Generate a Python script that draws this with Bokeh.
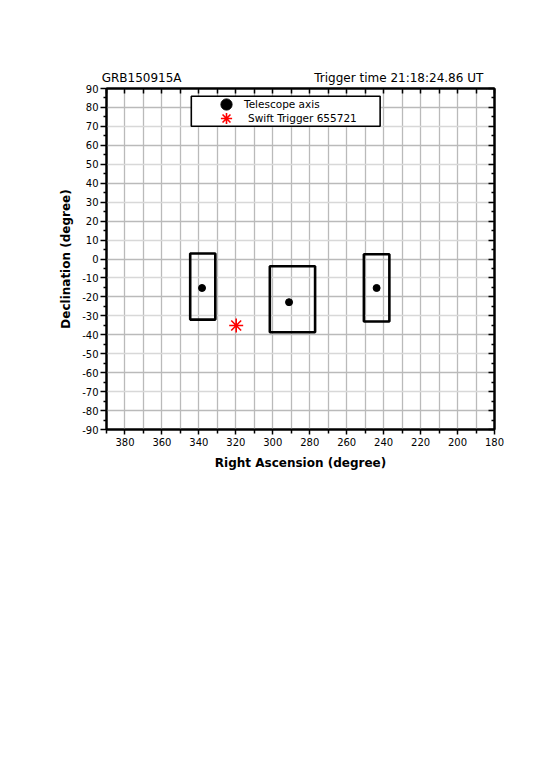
from bokeh.plotting import figure
from bokeh.models import (Range1d, LinearAxis, FixedTicker, Legend, LegendItem,
                          BoxAnnotation, CustomJSTickFormatter, ColumnDataSource)
from bokeh.embed import file_html
from bokeh.resources import INLINE

# ---- data ----
tel_ra = [338.3, 291.2, 243.8]
tel_dec = [-15.3, -22.8, -15.3]
swift_ra = [319.8]
swift_dec = [-35.1]
fov_left = [344.7, 301.6, 250.7]
fov_right = [331.1, 277.1, 236.9]
fov_top = [2.9, -3.8, 2.5]
fov_bottom = [-32.0, -38.7, -33.0]

x_ticks = [380, 360, 340, 320, 300, 280, 260, 240, 220, 200, 180]
x_minor = [390, 370, 350, 330, 310, 290, 270, 250, 230, 210, 190]
y_ticks = list(range(-90, 91, 10))
y_minor = list(range(-85, 90, 10))

title_left = "GRB150915A"
title_right = "Trigger time 21:18:24.86 UT"
x_label = "Right Ascension (degree)"
y_label = "Declination (degree)"
leg_tel = "Telescope axis"
leg_swift = "Swift Trigger 655721"

FONT = "DejaVu Sans"

p = figure(frame_width=388, frame_height=341,
           min_border_left=106, min_border_top=88, min_border_right=36, min_border_bottom=60,
           x_range=Range1d(390, 180), y_range=Range1d(-90, 90),
           output_backend="svg", toolbar_location=None,
           background_fill_color="white", border_fill_color="white")
p.outline_line_color = "black"
p.outline_line_width = 2

# grids
p.xgrid.ticker = FixedTicker(ticks=list(range(180, 391, 10)))
p.xgrid.grid_line_color = "#bababa"
p.xgrid.grid_line_width = 1.3
p.ygrid.ticker = FixedTicker(ticks=list(range(-80, 81, 20)), minor_ticks=list(range(-70, 81, 20)))
p.ygrid.grid_line_color = "#bababa"
p.ygrid.grid_line_width = 1.3
p.ygrid.minor_grid_line_color = "#d8d8d8"
p.ygrid.minor_grid_line_width = 1.3

plain = CustomJSTickFormatter(code="return tick.toString()")

# bottom axis
xa = p.xaxis[0]
xa.ticker = FixedTicker(ticks=x_ticks, minor_ticks=x_minor)
xa.axis_label = x_label
xa.axis_label_text_font = FONT
xa.axis_label_text_font_style = "bold"
xa.axis_label_text_font_size = "12px"
xa.axis_label_text_color = "black"
xa.axis_label_standoff = 7
xa.major_label_text_font = FONT
xa.major_label_text_font_size = "10px"
xa.major_label_text_color = "black"
xa.major_label_standoff = 3
xa.major_tick_out = 5
xa.major_tick_in = 0
xa.minor_tick_out = 4
xa.minor_tick_in = 0
xa.axis_line_width = 2
xa.major_tick_line_width = 1.5
xa.minor_tick_line_width = 1.5

# left axis
ya = p.yaxis[0]
ya.ticker = FixedTicker(ticks=y_ticks, minor_ticks=y_minor)
ya.formatter = plain
ya.axis_label = y_label
ya.axis_label_text_font = FONT
ya.axis_label_text_font_style = "bold"
ya.axis_label_text_font_size = "12px"
ya.axis_label_text_color = "black"
ya.axis_label_standoff = 6
ya.major_label_text_font = FONT
ya.major_label_text_font_size = "10px"
ya.major_label_text_color = "black"
ya.major_label_standoff = 2
ya.major_tick_out = 6
ya.major_tick_in = 0
ya.minor_tick_out = 3
ya.minor_tick_in = 0
ya.axis_line_width = 2
ya.major_tick_line_width = 1.5
ya.minor_tick_line_width = 1.5

# top axis: inward ticks every 10 deg; carries the two header texts as its labels
title_pos = [371.0, 231.8]   # header text centres along the top edge (layout only)
top_fmt = CustomJSTickFormatter(args=dict(left=title_left, right=title_right),
                                code="return tick > 300 ? left : right")
top = LinearAxis(ticker=FixedTicker(ticks=title_pos, minor_ticks=list(range(180, 391, 10))),
                 formatter=top_fmt,
                 major_tick_in=0, major_tick_out=0, minor_tick_in=5, minor_tick_out=0,
                 axis_line_width=2, minor_tick_line_width=1.5,
                 major_label_standoff=4, major_label_text_font=FONT,
                 major_label_text_font_size="12px", major_label_text_color="black")
p.add_layout(top, "above")

blank = CustomJSTickFormatter(code="return ''")
right = LinearAxis(ticker=FixedTicker(ticks=y_ticks, minor_ticks=y_minor), formatter=blank,
                   major_tick_in=6, major_tick_out=0, minor_tick_in=3, minor_tick_out=0,
                   axis_line_width=2, major_tick_line_width=1.5, minor_tick_line_width=1.5,
                   major_label_standoff=0)
p.add_layout(right, "right")

# field-of-view rectangles
p.quad(left=fov_left, right=fov_right, top=fov_top, bottom=fov_bottom,
       fill_color=None, line_color="black", line_width=2.6)

# telescope axes and swift trigger
p.scatter(tel_ra, tel_dec, marker="circle", size=7, fill_color="black", line_color="black")
p.scatter(swift_ra, swift_dec, marker="asterisk", size=14, line_color="red", line_width=1.6)

# legend (box + items)
box = BoxAnnotation(left=344.1, right=241.9, top=85.9, bottom=70.1,
                    fill_color="white", fill_alpha=1.0,
                    line_color="black", line_alpha=1.0, line_width=1.6)
p.add_layout(box)

nan = float("nan")
proxy_src = ColumnDataSource(data=dict(x=[nan], y=[nan]))
r_tel = p.scatter("x", "y", source=proxy_src, marker="circle", size=11,
                  fill_color="black", line_color="black")
r_sw = p.scatter("x", "y", source=proxy_src, marker="asterisk", size=13,
                 line_color="red", line_width=1.6)
leg_style = dict(padding=1, spacing=0, glyph_width=28, glyph_height=28, label_height=28,
                 label_text_font=FONT, label_text_font_size="10.5px", label_text_color="black",
                 border_line_alpha=0, background_fill_alpha=0, margin=0)
legend1 = Legend(items=[LegendItem(label=leg_tel, renderers=[r_tel])],
                 location=(105, 310), label_standoff=4, **leg_style)
legend2 = Legend(items=[LegendItem(label=leg_swift, renderers=[r_sw])],
                 location=(105, 296), label_standoff=8, **leg_style)
p.add_layout(legend1)
p.add_layout(legend2)

open("out.html", "w").write(file_html(p, INLINE))
